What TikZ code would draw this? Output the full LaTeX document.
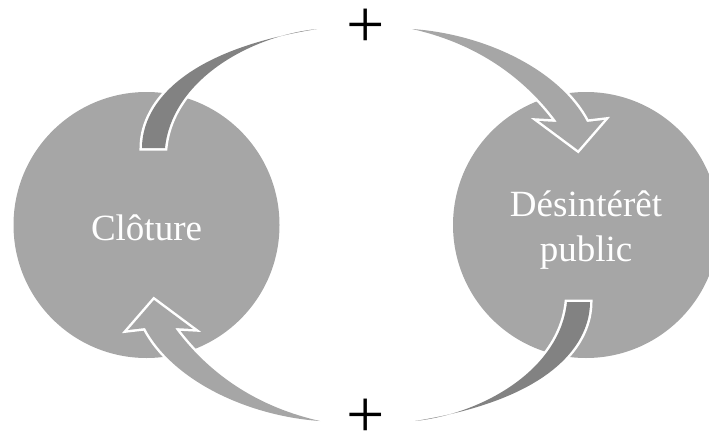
\documentclass[tikz,border=0pt]{standalone}
\usepackage{fontspec}
\setmainfont{Liberation Serif}
\definecolor{lightgr}{RGB}{166,166,166}
\definecolor{darkgr}{RGB}{130,130,130}
\begin{document}
\begin{tikzpicture}[x=1pt,y=-1pt,
  bubble/.style={circle,fill=lightgr,minimum size=266pt,inner sep=0pt},
  bubbletext/.style={inner sep=0pt,text=white,font=\fontsize{37}{44.5}\selectfont,align=center},
  plussign/.style={inner sep=0pt,font=\fontsize{68}{68}\selectfont},
  darkband/.style={fill=darkgr,preaction={draw=white,line width=5pt,line join=miter}},
  lightarrow/.style={fill=lightgr,preaction={draw=white,line width=5pt,line join=miter}}]
\useasboundingbox (0,0) rectangle (709,434);
\clip (0,0) rectangle (709,434);
\node[bubble] (cloture) at (146.5,225) {};
\node[bubble] (desint) at (586,225) {};
\node[bubbletext] (cloturetext) at (146.5,228) {Clôture};
\node[bubbletext] (desinttext) at (586,230) {Désintérêt\\public};
\node[plussign] (plustop) at (366,28) {+};
\node[plussign] (plusbot) at (366,418) {+};
% top-left dark band
\path[darkband] (142,148) .. controls (142,110) and (174,52) .. (317,29)
  .. controls (250,36) and (172,80) .. (165,148) -- cycle;
% top-right light arrow
\path[lightarrow] (412,29) .. controls (485,34) and (560,70) .. (587,122)
  -- (604,120) -- (578,150) -- (539,121) -- (557,122)
  .. controls (520,72) and (470,42) .. (412,29) -- cycle;
\begin{scope}[rotate around={180:(366,225)}]
\path[darkband] (142,148) .. controls (142,110) and (174,52) .. (317,29)
  .. controls (250,36) and (172,80) .. (165,148) -- cycle;
\path[lightarrow] (412,29) .. controls (485,34) and (560,70) .. (587,122)
  -- (604,120) -- (578,150) -- (539,121) -- (557,122)
  .. controls (520,72) and (470,42) .. (412,29) -- cycle;
\end{scope}
\end{tikzpicture}
\end{document}
